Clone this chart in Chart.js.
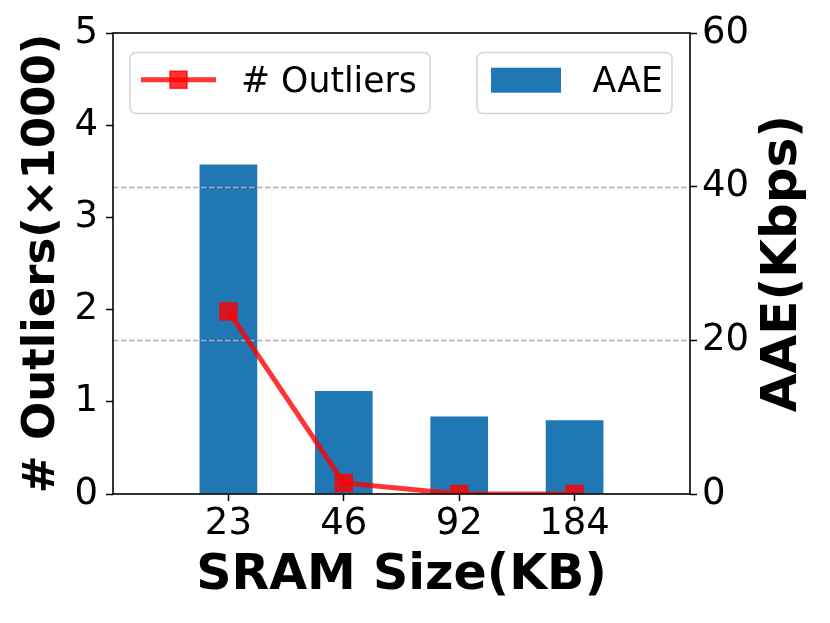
<!DOCTYPE html>
<html><head><meta charset="utf-8">
<script src="https://cdn.jsdelivr.net/npm/chart.js@4"></script>
<style>html,body{margin:0;padding:0;background:#fff;} #wrap{width:830px;height:623px;}</style>
</head><body><div id="wrap"><canvas id="c" width="830" height="623"></canvas></div>
<script>
const categories = ['23', '46', '92', '184'];
const outliers = [1.98, 0.12, 0.0, 0.0];
const aae = [42.9, 13.4, 10.1, 9.6];
const leftTicks = [0, 1, 2, 3, 4, 5];
const rightTicks = [0, 20, 40, 60];
const xTitle = 'SRAM Size(KB)';
const yLeftTitle = '# Outliers(×1000)';
const yRightTitle = 'AAE(Kbps)';
const outlierLabel = '# Outliers';
const aaeLabel = 'AAE';

const RED = 'rgba(255,0,0,0.8)';
const BLUE = '#1f77b4';
const FONT = 'DejaVu Sans';
const TICK_SIZE = 37;
Chart.defaults.font.family = FONT;

const deco = {
  id: 'deco',
  afterDatasetDraw(chart, args) {
    if (chart.getDatasetMeta(args.index).type !== 'bar') return;
    const ctx = chart.ctx, a = chart.chartArea, s = chart.scales.y1;
    ctx.save();
    ctx.beginPath(); ctx.rect(a.left, a.top, a.right - a.left, a.bottom - a.top); ctx.clip();
    ctx.strokeStyle = '#b0b0b0'; ctx.lineWidth = 1.5; ctx.setLineDash([5.5, 2.5]);
    s.ticks.forEach(t => {
      if (t.value <= s.min || t.value >= s.max) return;
      const y = Math.round(s.getPixelForValue(t.value)) + 0.5;
      ctx.beginPath(); ctx.moveTo(a.left, y); ctx.lineTo(a.right, y); ctx.stroke();
    });
    ctx.restore();
  },
  afterDraw(chart) {
    const ctx = chart.ctx, a = chart.chartArea;
    ctx.save();
    ctx.strokeStyle = '#000'; ctx.lineWidth = 1.6;
    ctx.strokeRect(a.left, a.top, a.right - a.left, a.bottom - a.top);
    ctx.save();
    ctx.translate(783, (a.top + a.bottom) / 2);
    ctx.rotate(-Math.PI / 2);
    ctx.font = 'bold 50px "' + FONT + '"';
    ctx.fillStyle = '#000'; ctx.textAlign = 'center'; ctx.textBaseline = 'middle';
    ctx.fillText(yRightTitle, 0, 0);
    ctx.restore();
    const ds = chart.data.datasets;
    function box(x, y, w, h) {
      ctx.beginPath(); ctx.roundRect(x, y, w, h, 6);
      ctx.fillStyle = 'rgba(255,255,255,0.8)'; ctx.fill();
      ctx.strokeStyle = '#d5d5d5'; ctx.lineWidth = 1.5; ctx.stroke();
    }
    box(130, 52.5, 300, 61);
    box(477, 52.5, 195, 61);
    ctx.strokeStyle = ds[0].borderColor; ctx.lineWidth = 5; ctx.setLineDash([]);
    ctx.beginPath(); ctx.moveTo(141, 79.7); ctx.lineTo(216, 79.7); ctx.stroke();
    ctx.fillStyle = ds[0].pointBackgroundColor;
    ctx.fillRect(170, 71.2, 17, 17);
    ctx.strokeStyle = ds[0].pointBorderColor; ctx.lineWidth = 1.5;
    ctx.strokeRect(170, 71.2, 17, 17);
    ctx.fillStyle = ds[1].backgroundColor;
    ctx.fillRect(491, 67.7, 70, 25);
    ctx.fillStyle = '#000'; ctx.font = '34.7px "' + FONT + '"';
    ctx.textAlign = 'left'; ctx.textBaseline = 'alphabetic';
    ctx.fillText(ds[0].label, 241, 91.7);
    ctx.fillText(ds[1].label, 592.5, 91.7);
    ctx.restore();
  }
};

new Chart(document.getElementById('c'), {
  type: 'bar',
  data: {
    datasets: [
      {
        type: 'line', label: outlierLabel, yAxisID: 'y', xAxisID: 'x',
        data: categories.map((c, i) => ({ x: i, y: outliers[i] })),
        borderColor: RED, borderWidth: 5, tension: 0,
        pointStyle: 'rect', pointRadius: 12, pointHoverRadius: 12,
        pointBackgroundColor: RED, pointBorderColor: RED, pointBorderWidth: 1.5,
        clip: 0, order: 1
      },
      {
        type: 'bar', label: aaeLabel, yAxisID: 'y1', xAxisID: 'x',
        data: categories.map((c, i) => ({ x: i, y: aae[i] })),
        backgroundColor: BLUE, borderWidth: 0,
        barPercentage: 0.5, categoryPercentage: 1.0, order: 2
      }
    ]
  },
  options: {
    responsive: false, animation: false, devicePixelRatio: 1,
    layout: { padding: { top: 33, left: 0, right: 0, bottom: 0 } },
    plugins: { legend: { display: false }, tooltip: { enabled: false } },
    scales: {
      x: {
        type: 'linear', position: 'bottom', min: -1, max: 4, offset: false,
        afterBuildTicks: s => { s.ticks = categories.map((c, i) => ({ value: i })); },
        afterFit: s => { s.height = 129; },
        ticks: { callback: v => categories[v], font: { size: TICK_SIZE }, color: '#000', padding: 1, autoSkip: false, maxRotation: 0 },
        grid: { drawOnChartArea: false, drawTicks: true, tickLength: 7, tickColor: '#000', tickWidth: 1.5, offset: false },
        border: { display: false },
        title: { display: true, text: xTitle, font: { size: 49, weight: 'bold' }, color: '#000', padding: 17.6 }
      },
      y: {
        position: 'left', min: 0, max: 5,
        afterBuildTicks: s => { s.ticks = leftTicks.map(v => ({ value: v })); },
        afterFit: s => { s.width = 113; },
        ticks: { font: { size: TICK_SIZE }, color: '#000', padding: 8 },
        grid: { drawOnChartArea: false, tickLength: 7, tickColor: '#000', tickWidth: 1.5 },
        border: { display: false },
        title: { display: true, text: yLeftTitle, font: { size: 45, weight: 'bold' }, color: '#000', padding: 15 }
      },
      y1: {
        position: 'right', min: 0, max: 60,
        afterBuildTicks: s => { s.ticks = rightTicks.map(v => ({ value: v })); },
        afterFit: s => { s.width = 140; },
        ticks: { font: { size: TICK_SIZE }, color: '#000', padding: 5 },
        grid: { drawOnChartArea: false, tickLength: 7, tickColor: '#000', tickWidth: 1.5 },
        border: { display: false }
      }
    }
  },
  plugins: [deco]
});
</script>
</body></html>
